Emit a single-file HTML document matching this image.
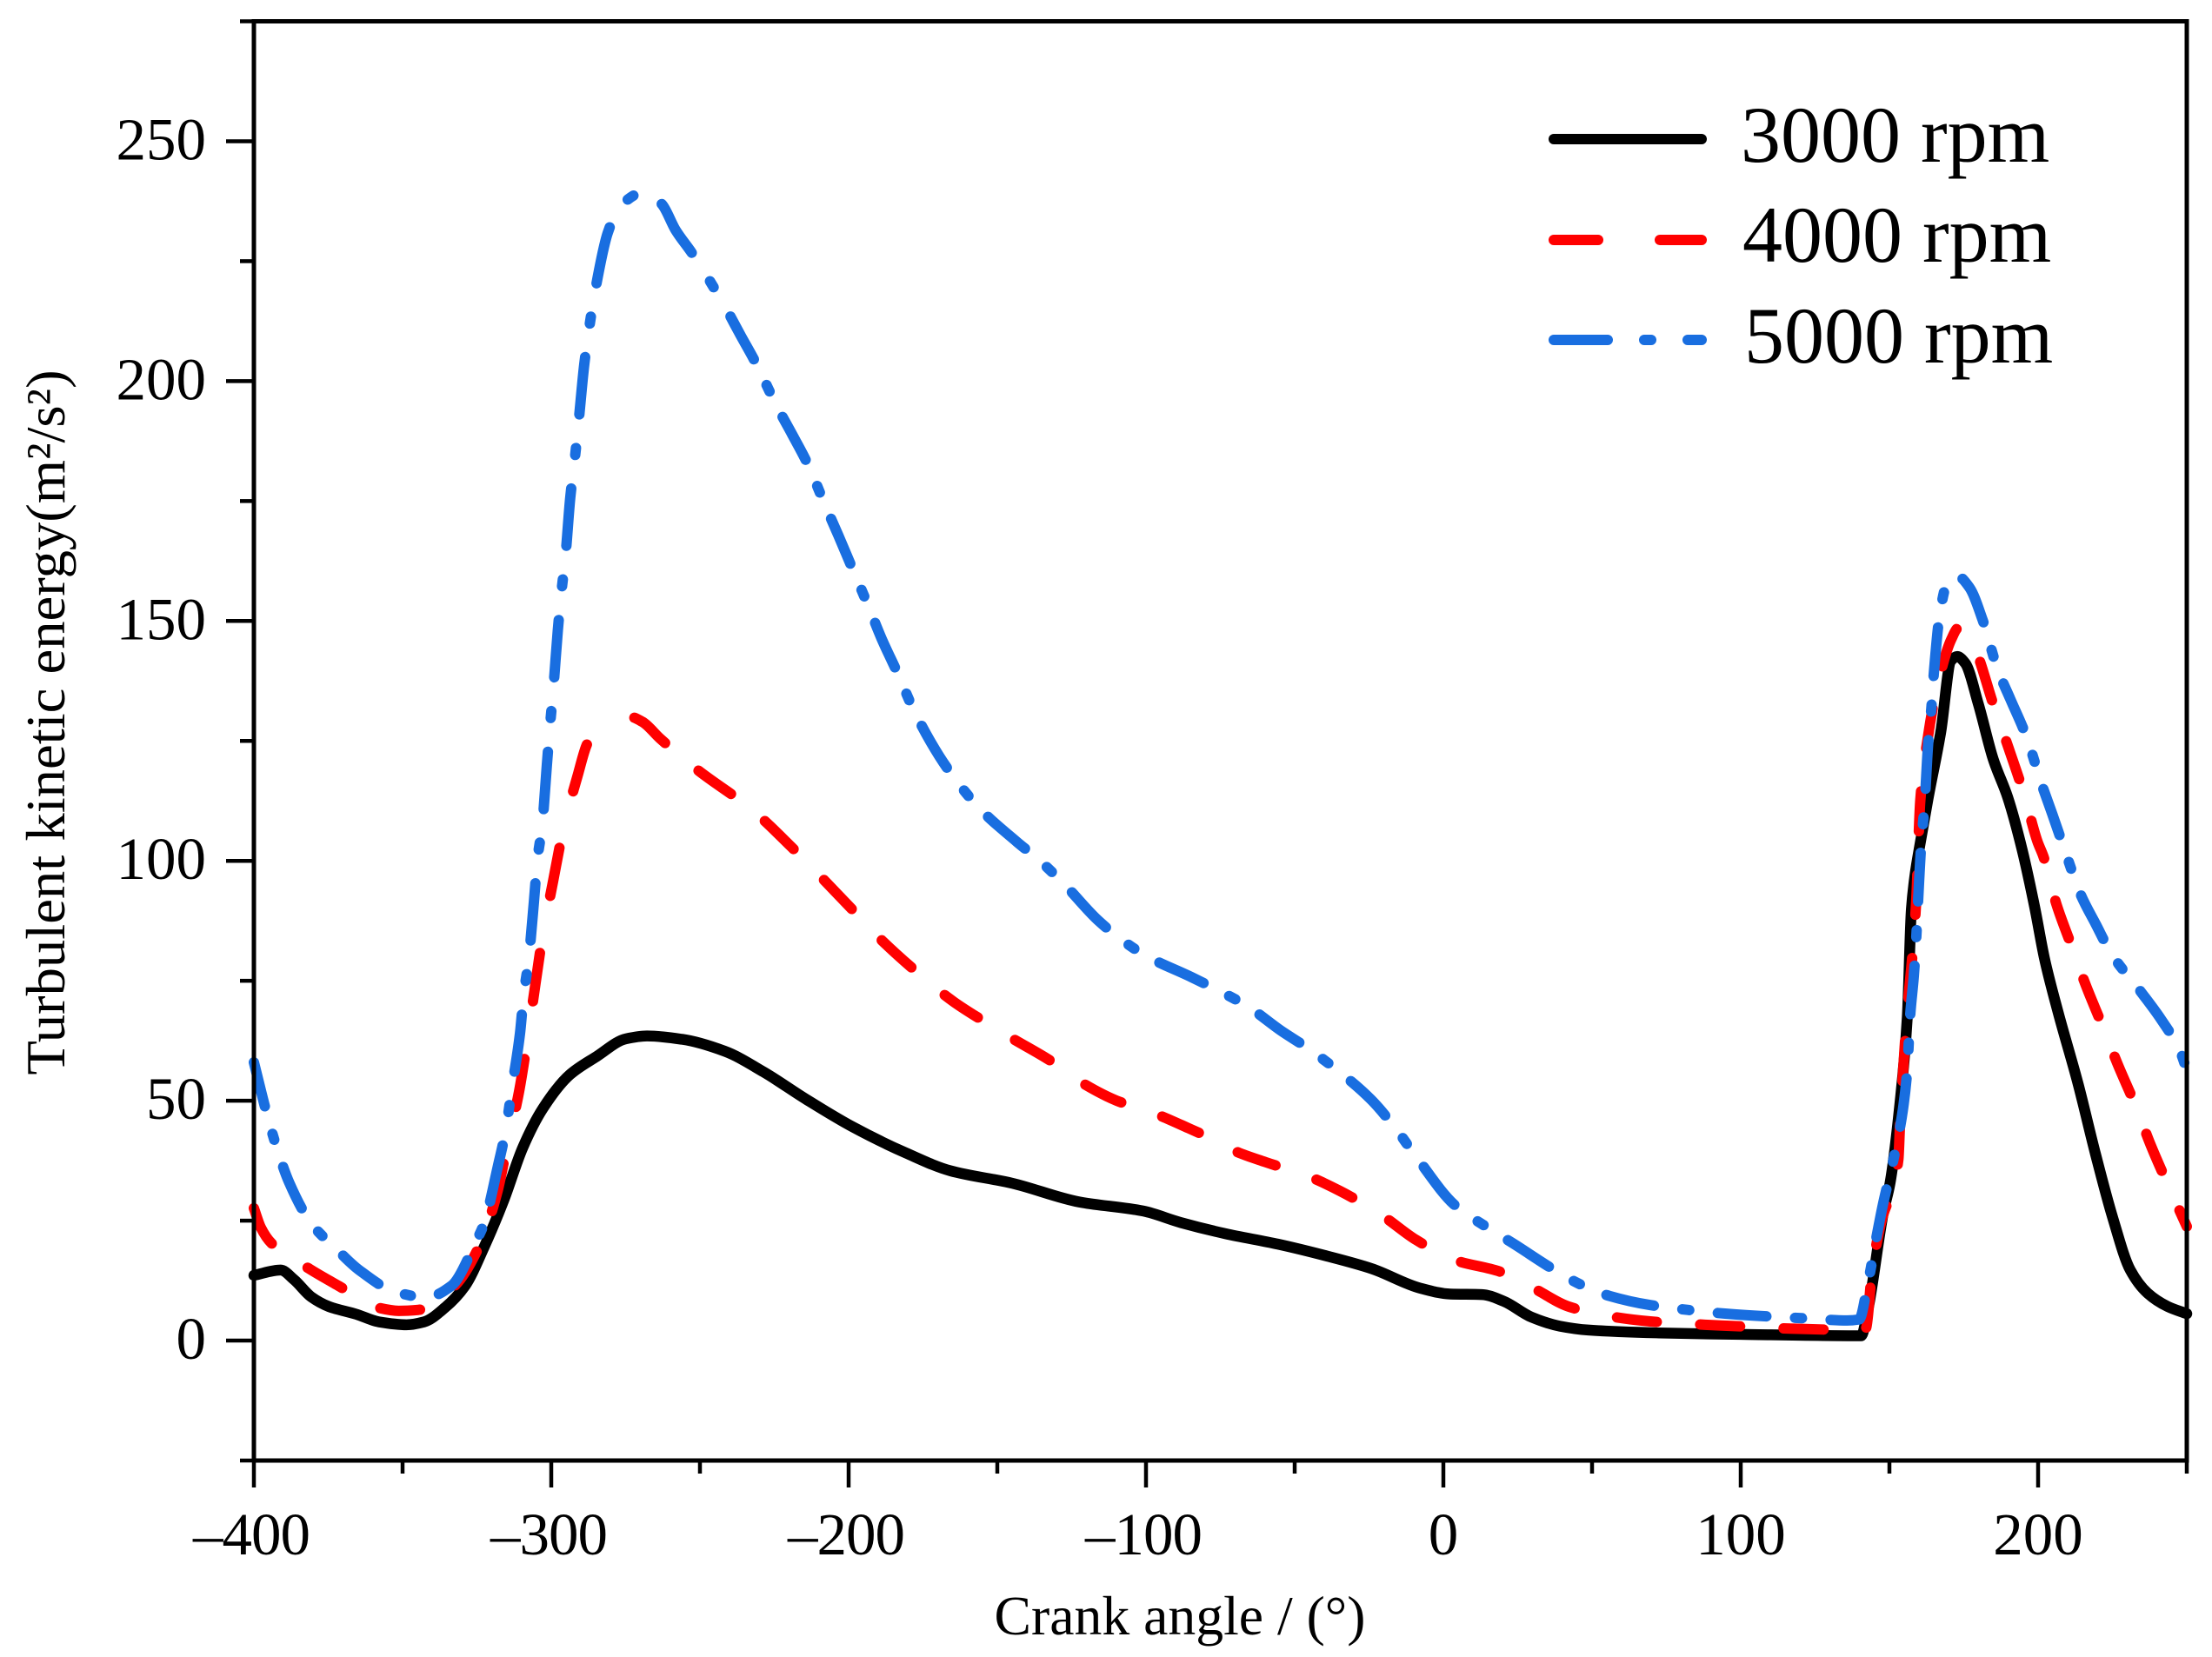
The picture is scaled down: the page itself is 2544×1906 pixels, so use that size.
<!DOCTYPE html>
<html>
<head>
<meta charset="utf-8">
<title>Turbulent kinetic energy vs crank angle</title>
<style>
html,body{margin:0;padding:0;background:#fff;}
svg{display:block;}
text{font-family:"Liberation Serif",serif;fill:#000;}
</style>
</head>
<body>
<svg id="chart" xmlns="http://www.w3.org/2000/svg" width="2544" height="1906" viewBox="0 0 2544 1906">
  <rect x="0" y="0" width="2544" height="1906" fill="#fff"/>
  <g id="series-layer"></g>
  <g id="axes-layer"></g>
  <text x="1357" y="1880" font-size="64" text-anchor="middle" textLength="427" lengthAdjust="spacingAndGlyphs">Crank angle / (°)</text>
  <text transform="translate(74,831) rotate(-90)" font-size="64" text-anchor="middle" textLength="811" lengthAdjust="spacingAndGlyphs">Turbulent kinetic energy(m²/s²)</text>
  <g>
    <g>
      <line x1="1787" y1="160" x2="1957" y2="160" stroke="#000" stroke-width="12" stroke-linecap="round"/>
      <text x="2002" y="186" font-size="92">3000 rpm</text>
    </g>
    <g>
      <line x1="1787" y1="276" x2="1957" y2="276" stroke="#ff0000" stroke-width="12" stroke-linecap="round" stroke-dasharray="51 71 48"/>
      <text x="2004" y="301" font-size="92">4000 rpm</text>
    </g>
    <g>
      <line x1="1787" y1="391" x2="1957" y2="391" stroke="#196ee0" stroke-width="12" stroke-linecap="round" stroke-dasharray="62 42 8 42 16"/>
      <text x="2006" y="417" font-size="92">5000 rpm</text>
    </g>
  </g>
</svg>
<script>
const anglesBlack = [-400,-391,-386.5,-380.7,-374.8,-365.6,-357.9,-348.7,-342.8,-335.7,-329,-322.5,-316,-309.6,-302.9,-293.8,-284.8,-274.9,-267.8,-256,-241.6,-228.6,-214.3,-198.8,-180.7,-165.8,-145,-122.5,-100.9,-88.3,-73.4,-55.6,-39,-24.1,-7.6,2.3,13,20.3,29.6,39.2,48.7,72.6,100,140.5,142.7,148,150.2,153.5,156,157.4,158.6,160.3,163,167.3,170.7,172.8,175.5,179.9,184.9,189.8,194.6,198.8,202.2,206.7,213.5,219.3,225.1,231,236.8,243.6,250];
const valuesBlack = [13.6,14.7,12.7,9.1,7.1,5.5,3.9,3.3,3.9,6.9,11.4,19.6,29.2,40.2,48.3,55.4,59.2,62.9,63.5,62.8,60.3,56,50.3,44.6,39.1,35.4,32.8,28.9,27,24.6,22.3,20.1,17.6,15,10.9,9.7,9.6,8.2,4.9,3,2.2,1.6,1.3,1,6.2,26.8,32.8,49.2,67.3,90,97,103.5,113,127,141.7,142.6,141.2,132.7,121.2,113.2,102.4,90.5,79.5,68.5,53.4,38.9,25.6,14.7,9.9,7.1,5.6];

const anglesRed = [-400,-397.7,-394.1,-381.2,-371.5,-358.5,-351.3,-344.7,-332.5,-324,-318,-315,-310.8,-308.2,-305.4,-303,-299.4,-296.2,-291.3,-287.4,-274,-269.4,-263.4,-250.9,-232.2,-219.4,-199,-189.8,-175.5,-164.6,-155.4,-145,-132.3,-122.2,-109.8,-98.6,-85.8,-74.4,-70.4,-59.8,-46.4,-34.8,-20.4,-9.2,4.2,18.9,30.7,42.1,57.6,69.6,88,102.3,116.7,140.3,142.1,144.2,147.1,153,153.6,156,157.8,159,160.4,163,165.6,170.9,173.1,175.5,178.9,184.9,189.3,195.4,199.8,201.8,206.2,211.1,215.9,221.7,226.7,233,237.9,244.3,250];
const valuesRed = [27.6,23.6,20.3,14.9,11.4,6.9,6.2,6.4,11.4,20,31.3,40.2,52,62,74,84,95.7,105.8,117.4,124.9,130.1,129,125.5,119,110.5,103,90,84,76,70.6,66.9,63,58.4,54,50,47.7,44.3,41,39.6,37.2,34.5,31.2,26,21,16.7,14.4,10.8,7.1,4.9,4,3.3,2.9,2.5,2.2,2.6,14.7,24.4,37.7,45.6,68.6,80.9,91.5,112.7,126,135,146.3,148.5,147.5,144,132.7,124.9,113.6,104,100.9,90.9,82.5,74.3,65.5,57.7,48.6,40.7,31.6,23.8];

const anglesBlue = [-400,-395.4,-391.8,-388.1,-380.7,-372.6,-364.6,-352.6,-342,-333.6,-325.2,-322.6,-318,-315.2,-313.4,-310.5,-309.3,-307.6,-305.8,-304.7,-303,-301.5,-300.5,-299.3,-297.8,-296.6,-295.2,-293.6,-292.1,-290.8,-288.9,-287.1,-285.1,-281,-276.9,-268.2,-262.7,-258.2,-252.7,-242,-236.3,-231.4,-224,-219,-213.9,-207.6,-203.5,-199.4,-193.3,-188.9,-183.6,-177.7,-169.5,-162.9,-155.3,-143.5,-135.3,-127.3,-116.3,-108.5,-100.3,-84.5,-75.1,-65.9,-54.6,-46.2,-37.4,-24.4,-16.4,-9,3.9,13.7,23.6,37.4,46.1,55.9,69.6,82.1,95.2,113.2,122.7,135.8,139.8,142.7,145.2,147.7,152,154.5,156,157,158.2,159,160,160.7,161.8,163,164.1,165,167,169.7,173,177,181.3,186.4,190.6,196,201.3,204.8,209.2,214.3,219.4,224.7,234.8,241.3,247.7,250];
const valuesBlue = [58,46.7,39.2,32.9,24.4,19.3,14.7,10.2,9,11.4,20.8,24.4,36.2,44.3,52,64.1,71.9,79.5,91.7,100,107.7,119.8,127.6,135.9,148,155.9,163.7,175.8,183.7,191.5,203.5,211.7,219.3,230.9,236.4,239.5,236.8,231.5,226.7,216,209.5,204,194.6,188.9,182.9,173.7,167.9,161.9,153,146.3,139.2,130.9,121.8,116,110.5,104,99.8,95,87.7,83.7,80.3,75.7,72.8,69.7,64.6,61.2,57.2,50.3,44.5,38.2,28.2,24,20.2,14.7,11.7,9.3,7.4,6.4,5.6,4.9,4.6,4.2,4.4,11.7,20.1,28,39.6,48,56.4,67.9,76,83.7,96,103.6,111.5,124.2,131.8,139.6,151.7,158.3,159.3,156.9,150.3,139.9,133.8,126,115.8,109.7,101.8,93,86.8,80.6,72.5,67,60.4,56.4];

const xTickValues = [-400,-350,-300,-250,-200,-150,-100,-50,0,50,100,150,200,250];
const xTickLabels = ["–400","","–300","","–200","","–100","","0","","100","","200",""];
const yTickValues = [-25,0,25,50,75,100,125,150,175,200,225,250,275];
const yTickLabels = ["","0","","50","","100","","150","","200","","250",""];

const SVG_NS = "http://www.w3.org/2000/svg";
const plotLeft = 292, plotRight = 2515, plotTop = 24.5, plotBottom = 1680;
const xMin = -400, xMax = 250, yMin = -25, yMax = 275;

function xScale(v) { return plotLeft + (v - xMin) / (xMax - xMin) * (plotRight - plotLeft); }
function yScale(v) { return plotBottom - (v - yMin) / (yMax - yMin) * (plotBottom - plotTop); }
function xInvert(px) { return xMin + (px - plotLeft) / (plotRight - plotLeft) * (xMax - xMin); }

function monotonePath(xs, ys) {
  const n = xs.length;
  const d = [], m = [];
  for (let i = 0; i < n - 1; i++) d.push((ys[i + 1] - ys[i]) / (xs[i + 1] - xs[i]));
  m.push(d[0]);
  for (let i = 1; i < n - 1; i++) {
    if (d[i - 1] * d[i] <= 0) { m.push(0); continue; }
    const h0 = xs[i] - xs[i - 1], h1 = xs[i + 1] - xs[i];
    const w1 = 2 * h1 + h0, w2 = h1 + 2 * h0;
    m.push((w1 + w2) / (w1 / d[i - 1] + w2 / d[i]));
  }
  m.push(d[n - 2]);
  let path = "M" + xs[0].toFixed(2) + " " + ys[0].toFixed(2);
  for (let i = 0; i < n - 1; i++) {
    const h = (xs[i + 1] - xs[i]) / 3;
    path += "C" + (xs[i] + h).toFixed(2) + " " + (ys[i] + m[i] * h).toFixed(2) + " " +
      (xs[i + 1] - h).toFixed(2) + " " + (ys[i + 1] - m[i + 1] * h).toFixed(2) + " " +
      xs[i + 1].toFixed(2) + " " + ys[i + 1].toFixed(2);
  }
  return path;
}

function variableDash(path, styleAt) {
  const total = path.getTotalLength();
  const out = [];
  let walked = 0;
  while (walked < total) {
    const pattern = styleAt(xInvert(path.getPointAtLength(walked).x));
    pattern.forEach(function (len) { out.push(len); walked += len; });
  }
  return out.join(" ");
}

function redPattern(angle) {
  return (angle > -322 && angle < -280) ? [56, 67] : [46, 50];
}
function bluePattern(angle) {
  if (angle < -322) return [52, 33, 7, 33];
  if (angle < -262) return [66, 39, 8, 39];
  return [56, 33, 8, 33];
}

const seriesLayer = document.getElementById("series-layer");
const axesLayer = document.getElementById("axes-layer");

function drawSeries(name, angles, values, color, width, styleAt) {
  const p = document.createElementNS(SVG_NS, "path");
  
  
  p.setAttribute("d", monotonePath(angles.map(xScale), values.map(yScale)));
  p.setAttribute("fill", "none");
  p.setAttribute("stroke", color);
  p.setAttribute("stroke-width", width);
  p.setAttribute("stroke-linejoin", "round");
  p.setAttribute("stroke-linecap", "round");
  seriesLayer.appendChild(p);
  if (styleAt) p.setAttribute("stroke-dasharray", variableDash(p, styleAt));
}

drawSeries("series-3000-rpm", anglesBlack, valuesBlack, "#000000", 12.5, null);
drawSeries("series-4000-rpm", anglesRed, valuesRed, "#ff0000", 12, redPattern);
drawSeries("series-5000-rpm", anglesBlue, valuesBlue, "#196ee0", 12, bluePattern);

function drawLine(name, x1, y1, x2, y2, w) {
  const l = document.createElementNS(SVG_NS, "line");
  
  
  l.setAttribute("x1", x1);
  l.setAttribute("y1", y1);
  l.setAttribute("x2", x2);
  l.setAttribute("y2", y2);
  l.setAttribute("stroke", "#000");
  l.setAttribute("stroke-width", w);
  axesLayer.appendChild(l);
}

function drawLabel(name, x, y, anchor, str, spacing) {
  const t = document.createElementNS(SVG_NS, "text");
  
  
  t.setAttribute("x", x);
  t.setAttribute("y", y);
  t.setAttribute("font-size", "69");
  t.setAttribute("text-anchor", anchor);
  if (spacing) t.setAttribute("letter-spacing", spacing);
  t.textContent = str;
  axesLayer.appendChild(t);
}

drawLine("left-axis-line", plotLeft, plotTop - 2.5, plotLeft, plotBottom, 5);
drawLine("right-axis-line", plotRight, plotTop - 2.5, plotRight, plotBottom, 5);
drawLine("top-axis-line", plotLeft, plotTop, plotRight + 2.5, plotTop, 5);
drawLine("bottom-axis-line", plotLeft, plotBottom, plotRight + 2.5, plotBottom, 5);

xTickValues.forEach(function (v, i) {
  const major = xTickLabels[i] !== "";
  drawLine("x-tick-" + v, xScale(v), plotBottom, xScale(v), plotBottom + (major ? 31 : 15), 4.5);
  if (major) {
    if (v < 0) drawLabel("x-tick-label-" + v, xScale(v) - 3, 1788, "middle", xTickLabels[i], "-1");
    else drawLabel("x-tick-label-" + v, xScale(v), 1788, "middle", xTickLabels[i], null);
  }
});

yTickValues.forEach(function (v, i) {
  const major = yTickLabels[i] !== "";
  drawLine("y-tick-" + v, plotLeft, yScale(v), plotLeft - (major ? 32 : 16), yScale(v), 4.5);
  if (major) drawLabel("y-tick-label-" + v, 237, yScale(v) + 21, "end", yTickLabels[i], null);
});
</script>
</body>
</html>
